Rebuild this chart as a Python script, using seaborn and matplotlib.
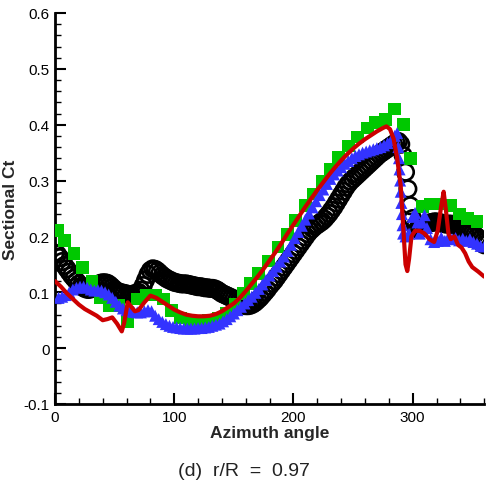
import numpy as np
import pandas as pd
import seaborn as sns
import matplotlib.pyplot as plt
from matplotlib.ticker import MultipleLocator

# ---- data ----
# black open circles (every 2 degrees, 0..360)
circle_az = np.arange(0, 361, 2)
circle_ct = [
    0.170, 0.168, 0.162, 0.155, 0.148, 0.142, 0.136, 0.130, 0.125, 0.120,
    0.115, 0.111, 0.108, 0.106, 0.105, 0.106, 0.108, 0.111, 0.114, 0.116,
    0.117, 0.117, 0.116, 0.113, 0.109, 0.105, 0.102, 0.100, 0.099, 0.098,
    0.097, 0.096, 0.096, 0.097, 0.098, 0.100, 0.104, 0.112, 0.122, 0.132,
    0.139, 0.142, 0.141, 0.138, 0.134, 0.130, 0.127, 0.124, 0.122, 0.120,
    0.118, 0.117, 0.116, 0.115, 0.115, 0.115, 0.114, 0.113, 0.112, 0.111,
    0.110, 0.110, 0.109, 0.108, 0.108, 0.107, 0.107, 0.106, 0.104, 0.101,
    0.098, 0.096, 0.094, 0.092, 0.090, 0.088, 0.085, 0.082, 0.079, 0.077,
    0.076, 0.076, 0.077, 0.079, 0.082, 0.086, 0.090, 0.095, 0.100, 0.105,
    0.111, 0.116, 0.121, 0.127, 0.133, 0.139, 0.145, 0.151, 0.157, 0.163,
    0.169, 0.175, 0.181, 0.187, 0.193, 0.199, 0.205, 0.210, 0.214, 0.218,
    0.221, 0.224, 0.227, 0.231, 0.236, 0.241, 0.247, 0.253, 0.260, 0.267,
    0.274, 0.281, 0.288, 0.294, 0.299, 0.303, 0.307, 0.311, 0.315, 0.319,
    0.323, 0.327, 0.331, 0.335, 0.339, 0.343, 0.347, 0.350, 0.353, 0.356,
    0.359, 0.362, 0.365, 0.368, 0.370, 0.365, 0.345, 0.315, 0.285, 0.255,
    0.232, 0.218, 0.213, 0.214, 0.217, 0.220, 0.222, 0.224, 0.225, 0.226,
    0.226, 0.225, 0.224, 0.223, 0.222, 0.222, 0.222, 0.221, 0.220, 0.218,
    0.216, 0.214, 0.212, 0.210, 0.208, 0.206, 0.203, 0.199, 0.194, 0.189,
    0.185,
]

# green squares
square_az = [2, 8, 16, 23, 31, 38, 46, 53, 61, 69, 77, 84, 91, 98, 105, 113,
             121, 129, 137, 144, 151, 158, 164, 171, 179, 187, 195, 202, 210,
             217, 224, 231, 238, 246, 254, 262, 269, 277, 285, 292, 298, 308,
             315, 323, 332, 339, 346, 354]
square_ct = [0.210, 0.192, 0.170, 0.145, 0.120, 0.090, 0.076, 0.076, 0.047,
             0.088, 0.095, 0.095, 0.088, 0.067, 0.054, 0.049, 0.047, 0.049,
             0.054, 0.062, 0.078, 0.098, 0.115, 0.133, 0.156, 0.181, 0.204,
             0.228, 0.255, 0.276, 0.299, 0.320, 0.342, 0.362, 0.378, 0.394,
             0.404, 0.410, 0.428, 0.400, 0.340, 0.253, 0.258, 0.258, 0.255,
             0.240, 0.232, 0.226]

# blue triangles
tri_az = [3, 6, 9, 12, 15, 18, 21, 24, 27, 30, 33, 36, 39, 42, 45, 48, 51,
          54, 57, 60, 63, 66, 69, 72, 75, 78, 81, 84, 87, 90, 93, 96, 99, 102,
          105, 108, 111, 114, 117, 120, 123, 126, 129, 132, 135, 138, 141,
          144, 147, 150, 153, 156, 159, 162, 165, 168, 171, 174, 177, 180,
          183, 186, 189, 192, 195, 198, 201, 204, 207, 210, 213, 216, 219,
          222, 225, 228, 231, 234, 237, 240, 243, 246, 249, 252, 255, 258,
          261, 264, 267, 270, 273, 276, 279, 282, 285, 287, 288, 288.5, 289,
          289.5, 290, 290.5, 291, 291.5, 292, 294, 297, 300, 302, 304, 306,
          308, 310, 312, 315, 318, 321, 324, 327, 330, 333, 336, 339, 342,
          345, 348, 351, 354, 357, 360]
tri_ct = [0.090, 0.092, 0.095, 0.100, 0.105, 0.108, 0.110, 0.110, 0.108,
          0.105, 0.103, 0.104, 0.103, 0.100, 0.096, 0.090, 0.083, 0.076,
          0.071, 0.068, 0.066, 0.065, 0.064, 0.064, 0.066, 0.068, 0.066,
          0.058, 0.052, 0.047, 0.043, 0.040, 0.038, 0.037, 0.036, 0.035,
          0.035, 0.035, 0.035, 0.036, 0.036, 0.037, 0.038, 0.040, 0.042,
          0.044, 0.048, 0.052, 0.057, 0.062, 0.068, 0.074, 0.080, 0.086,
          0.092, 0.099, 0.106, 0.114, 0.122, 0.130, 0.138, 0.146, 0.155,
          0.164, 0.174, 0.185, 0.197, 0.208, 0.219, 0.230, 0.241, 0.252,
          0.263, 0.274, 0.284, 0.294, 0.303, 0.311, 0.318, 0.324, 0.330,
          0.335, 0.340, 0.344, 0.347, 0.350, 0.352, 0.354, 0.356, 0.358,
          0.360, 0.363, 0.367, 0.372, 0.380, 0.385, 0.360, 0.340, 0.320,
          0.300, 0.280, 0.260, 0.240, 0.220, 0.205, 0.200, 0.205, 0.235,
          0.242, 0.225, 0.205, 0.225, 0.238, 0.215, 0.195, 0.190, 0.192,
          0.198, 0.192, 0.198, 0.195, 0.197, 0.193, 0.196, 0.192, 0.195,
          0.190, 0.187, 0.183, 0.182]

# red solid line
line_az = [0, 5, 10, 15, 20, 25, 30, 35, 40, 44, 48, 52, 56, 58, 61, 64, 67,
           70, 75, 80, 85, 90, 95, 100, 105, 110, 115, 120, 125, 130, 135,
           140, 145, 150, 155, 160, 165, 170, 175, 180, 185, 190, 195, 200,
           205, 210, 215, 220, 225, 230, 235, 240, 245, 250, 255, 260, 265,
           270, 275, 278, 281, 284, 287, 290, 292, 294, 295.5, 297, 299, 302,
           306, 310, 314, 318, 321, 324, 326, 328, 330, 332, 335, 338, 341,
           344, 347, 350, 355, 360]
line_ct = [0.120, 0.110, 0.098, 0.088, 0.078, 0.070, 0.064, 0.058, 0.050,
           0.052, 0.055, 0.044, 0.030, 0.045, 0.082, 0.074, 0.066, 0.068,
           0.082, 0.094, 0.090, 0.083, 0.076, 0.069, 0.064, 0.060, 0.058,
           0.057, 0.057, 0.058, 0.061, 0.066, 0.073, 0.080, 0.090, 0.102,
           0.115, 0.128, 0.142, 0.157, 0.172, 0.188, 0.205, 0.221, 0.237,
           0.253, 0.268, 0.283, 0.297, 0.311, 0.324, 0.336, 0.347, 0.357,
           0.366, 0.374, 0.381, 0.388, 0.394, 0.397, 0.392, 0.375, 0.340,
           0.290, 0.220, 0.150, 0.138, 0.160, 0.200, 0.210, 0.210, 0.205,
           0.195, 0.190, 0.210, 0.255, 0.280, 0.245, 0.205, 0.195, 0.200,
           0.185, 0.180, 0.170, 0.155, 0.145, 0.137, 0.128]

caption = "(d)  r/R  =  0.97"

# ---- plot ----
sns.set_style("white")
plt.rcParams['font.family'] = ['Liberation Sans', 'DejaVu Sans']

fig = plt.figure(figsize=(4.88, 4.89), dpi=100)
ax = fig.add_axes([0.1127, 0.1718, 0.8795, 0.7996])

sns.scatterplot(x=circle_az, y=circle_ct, ax=ax, marker='o', s=140,
                facecolors='none', edgecolor='black', linewidth=1.9, zorder=2)
sns.scatterplot(x=square_az, y=square_ct, ax=ax, marker='s', s=85,
                color='#00c800', edgecolor='none', zorder=3)
sns.scatterplot(x=tri_az, y=tri_ct, ax=ax, marker='^', s=75,
                color='#3333ff', edgecolor='none', zorder=4)
sns.lineplot(x=line_az, y=line_ct, ax=ax, color='#cc0000', linewidth=3.0,
             sort=False, zorder=5)

ax.set_xlim(0, 360)
ax.set_ylim(-0.1, 0.6)
ax.xaxis.set_major_locator(MultipleLocator(100))
ax.xaxis.set_minor_locator(MultipleLocator(20))
ax.yaxis.set_major_locator(MultipleLocator(0.1))
ax.yaxis.set_minor_locator(MultipleLocator(0.02))
ax.set_yticks(np.arange(-0.1, 0.61, 0.1))
ax.set_yticklabels(['-0.1', '0', '0.1', '0.2', '0.3', '0.4', '0.5', '0.6'])
ax.tick_params(which='both', bottom=True, left=True, top=False, right=False)
ax.tick_params(which='major', direction='in', length=8, width=1.5,
               labelsize=11, colors='black', pad=4)
ax.tick_params(which='minor', direction='in', length=4, width=1.0,
               colors='black')
for side in ['top', 'right']:
    ax.spines[side].set_visible(False)
for side in ['left', 'bottom']:
    ax.spines[side].set_linewidth(2)
    ax.spines[side].set_color('black')

ax.set_xlabel('Azimuth angle', fontsize=12.5, fontweight='bold', labelpad=1)
ax.set_ylabel('Sectional Ct', fontsize=12.5, fontweight='bold')
ax.yaxis.set_label_coords(-0.087, 0.5)

fig.text(0.5, 1 - 472 / 489, caption, ha='center', va='center', fontsize=14,
         color='#222222')

fig.savefig('out.png', dpi=100)
